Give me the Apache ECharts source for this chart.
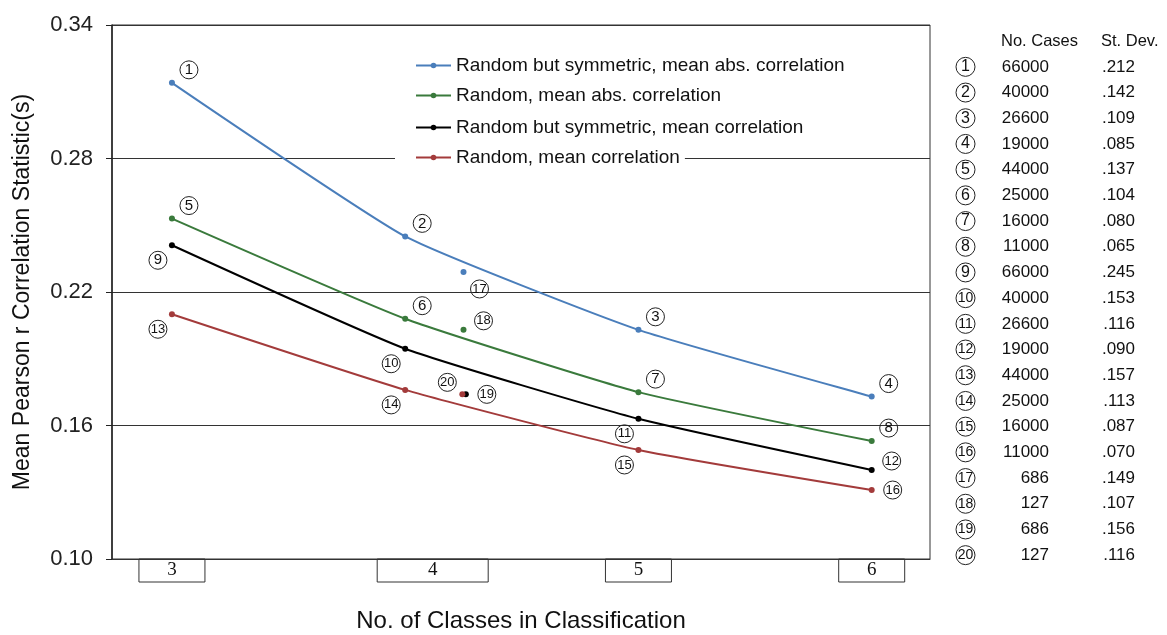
<!DOCTYPE html>
<html>
<head>
<meta charset="utf-8">
<script src="https://cdn.jsdelivr.net/npm/echarts@6/dist/echarts.min.js"></script>
<style>html,body{margin:0;padding:0;background:#fff;}#chart{width:1167px;height:635px;}</style>
</head>
<body>
<div id="chart"></div>
<script>
// ---- data ----
const classes = [3, 4, 5, 6];
const seriesNames = [
  'Random but symmetric, mean abs. correlation',
  'Random, mean abs. correlation',
  'Random but symmetric, mean correlation',
  'Random, mean correlation'
];
const symAbsCorr = [0.314, 0.245, 0.203, 0.173];
const randAbsCorr = [0.253, 0.208, 0.175, 0.153];
const symMeanCorr = [0.241, 0.1945, 0.163, 0.140];
const randMeanCorr = [0.210, 0.176, 0.149, 0.131];
const pointIds = [[1, 2, 3, 4], [5, 6, 7, 8], [9, 10, 11, 12], [13, 14, 15, 16]];
// small-sample points (ids 17-20)
const smallIds = [17, 18, 19, 20];
const smallClasses = [4.25, 4.25, 4.26, 4.245];
const smallValues = [0.229, 0.203, 0.174, 0.174];
const yTicks = [0.10, 0.16, 0.22, 0.28, 0.34];
// table
const tableCases = [66000, 40000, 26600, 19000, 44000, 25000, 16000, 11000, 66000, 40000, 26600, 19000, 44000, 25000, 16000, 11000, 686, 127, 686, 127];
const tableStDev = ['.212', '.142', '.109', '.085', '.137', '.104', '.080', '.065', '.245', '.153', '.116', '.090', '.157', '.113', '.087', '.070', '.149', '.107', '.156', '.116'];

// ---- layout / style (not data) ----
const colors = ['#4A7EBB', '#3A7A3C', '#000000', '#A33B3B'];
const offsets = { ne: [17, -13], sw: [-14, 15], e: [21, 0], ene: [20, -9], se: [16, 17], nw: [-15, -12] };
const placement = {
  1: 'ne', 2: 'ne', 3: 'ne', 4: 'ne', 5: 'ne', 6: 'ne', 7: 'ne', 8: 'ne',
  9: 'sw', 10: 'sw', 11: 'sw', 12: 'ene', 13: 'sw', 14: 'sw', 15: 'sw', 16: 'e',
  17: 'se', 18: 'ene', 19: 'e', 20: 'nw'
};
const FONT = 'Liberation Sans, Arial, sans-serif';
const circleRich = {
  c1: { width: 18, height: 18, borderRadius: 9, borderColor: '#222', borderWidth: 1, align: 'center', verticalAlign: 'middle', fontSize: 15, fontWeight: 'normal', fontFamily: FONT, color: '#111', lineHeight: 18 },
  c2: { width: 18, height: 18, borderRadius: 9, borderColor: '#222', borderWidth: 1, align: 'center', verticalAlign: 'middle', fontSize: 13, fontWeight: 'normal', fontFamily: FONT, color: '#111', lineHeight: 18, letterSpacing: -1 }
};
function circ(n) { return n < 10 ? '{c1|' + n + '}' : '{c2|' + n + '}'; }
function labelFor(id) {
  return { show: true, position: 'inside', offset: offsets[placement[id]], formatter: circ(id), rich: circleRich, color: '#111', opacity: 1 };
}

const lineData = [symAbsCorr, randAbsCorr, symMeanCorr, randMeanCorr];
const series = [];
lineData.forEach((vals, s) => {
  series.push({
    name: seriesNames[s], type: 'line', smooth: 0.15,
    symbol: 'circle', symbolSize: 6,
    lineStyle: { width: 2, color: colors[s] }, itemStyle: { color: colors[s] },
    z: 3,
    data: vals.map((v, i) => ({ value: [classes[i], v], label: labelFor(pointIds[s][i]) }))
  });
});
smallIds.forEach((id, i) => {
  series.push({
    name: 'small' + id, type: 'scatter', symbol: 'circle', symbolSize: 6,
    itemStyle: { color: colors[i], opacity: 1 }, z: 3,
    data: [{ value: [smallClasses[i], smallValues[i]], label: labelFor(id) }]
  });
});

const legendTops = [53, 83, 115, 145];
const legends = seriesNames.map((n, i) => ({
  data: [n], left: 395, top: legendTops[i], orient: 'horizontal',
  backgroundColor: '#fff', padding: [3, 5, 3, 20], itemWidth: 35, itemHeight: 7,
  selectedMode: false,
  textStyle: { fontSize: 19, fontFamily: FONT, color: '#111' }
}));

let tableText = tableCases.map((c, i) => circ(i + 1).replace('{c', '{t') + '{n|' + c + '}{s|' + tableStDev[i] + '}').join('\n');
const tableRich = {
  t1: Object.assign({}, circleRich.c1, { width: 19, height: 19, borderRadius: 10, lineHeight: 25.7, fontSize: 16 }),
  t2: Object.assign({}, circleRich.c2, { width: 19, height: 19, borderRadius: 10, lineHeight: 25.7, fontSize: 14 }),
  n: { width: 74, align: 'right', fontSize: 17, fontWeight: 'normal', fontFamily: FONT, color: '#111', lineHeight: 25.7 },
  s: { width: 86, align: 'right', fontSize: 17, fontWeight: 'normal', fontFamily: FONT, color: '#111', lineHeight: 25.7 }
};

const option = {
  backgroundColor: '#fff',
  animation: false,
  title: [
    { text: tableText, left: 956, top: 54, padding: 0, textStyle: { rich: tableRich, fontSize: 17, fontWeight: 'normal', lineHeight: 25.7 } },
    { text: '{a|No. Cases}{b|St. Dev.}', left: 1001, top: 33, padding: 0,
      textStyle: { fontWeight: 'normal', rich: { a: { width: 100, fontSize: 16.5, fontWeight: 'normal', fontFamily: FONT, color: '#111' }, b: { fontSize: 16.5, fontWeight: 'normal', fontFamily: FONT, color: '#111' } } } }
  ],
  legend: legends,
  grid: { left: 112, right: 237, top: 25, bottom: 76, show: true, borderColor: '#333', borderWidth: 1, backgroundColor: 'transparent', outerBoundsMode: 'none', containLabel: false },
  xAxis: {
    type: 'value', min: 2.743, max: 6.25,
    name: 'No. of Classes in Classification', nameLocation: 'middle', nameGap: 50,
    nameTextStyle: { fontSize: 24, fontFamily: FONT, color: '#111' },
    axisLine: { show: true, lineStyle: { color: '#333', width: 1 } },
    axisTick: { show: false },
    splitLine: { show: false },
    axisLabel: {
      customValues: classes, margin: 0,
      formatter: function (v) { return v === 4 ? '{sp|}{w|4}' : '{b|' + v + '}'; },
      rich: {
        b: { width: 66, height: 23, borderColor: '#333', borderWidth: 1, align: 'center', fontSize: 19, fontFamily: 'Liberation Serif, Times New Roman, serif', color: '#111' },
        w: { width: 111, height: 23, borderColor: '#333', borderWidth: 1, align: 'center', fontSize: 19, fontFamily: 'Liberation Serif, Times New Roman, serif', color: '#111' },
        sp: { width: 55, height: 23 }
      }
    }
  },
  yAxis: {
    type: 'value', min: yTicks[0], max: yTicks[yTicks.length - 1], interval: 0.06,
    name: 'Mean Pearson r Correlation Statistic(s)', nameLocation: 'middle', nameGap: 78, nameRotate: 90,
    nameTextStyle: { fontSize: 23, fontFamily: FONT, color: '#111' },
    axisLine: { show: true, lineStyle: { color: '#222', width: 1.5 } },
    axisTick: { show: true, length: 6, lineStyle: { color: '#222' } },
    splitLine: { show: true, lineStyle: { color: '#333', width: 1 } },
    axisLabel: { margin: 19, fontSize: 22, fontFamily: FONT, color: '#222', formatter: v => v.toFixed(2) }
  },
  series: series
};
const chart = echarts.init(document.getElementById('chart'), null, { renderer: 'canvas' });
chart.setOption(option);
</script>
</body>
</html>
